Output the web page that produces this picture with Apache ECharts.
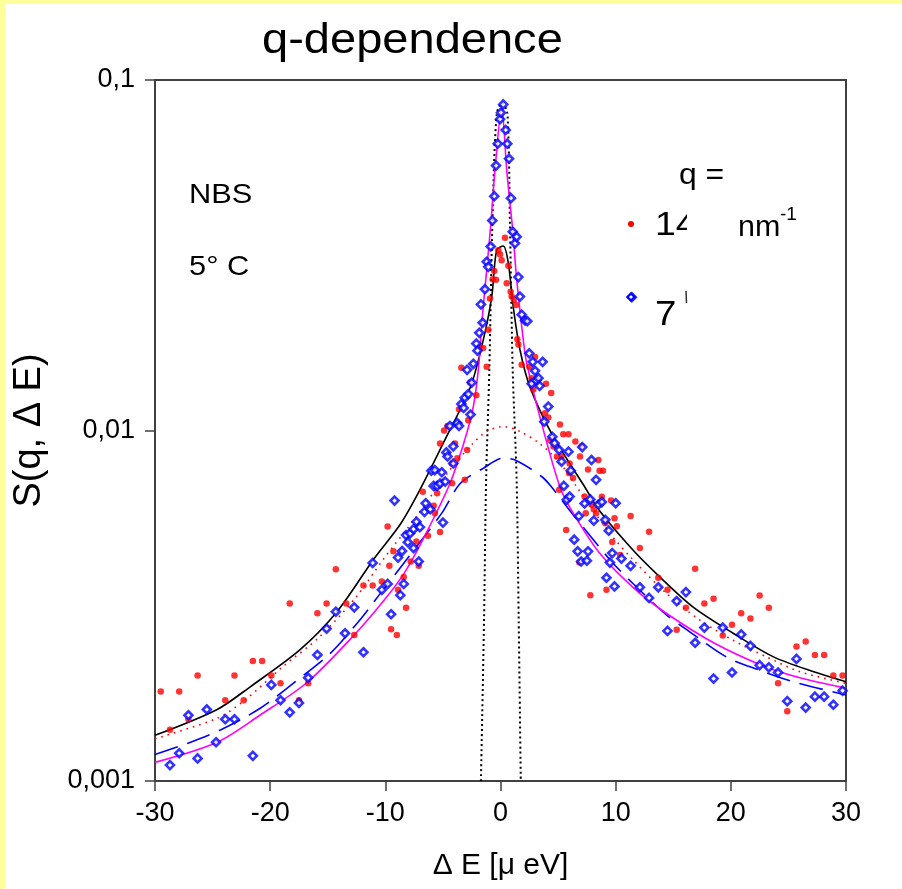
<!DOCTYPE html>
<html>
<head>
<meta charset="utf-8">
<script src="https://cdn.jsdelivr.net/npm/echarts/dist/echarts.min.js"></script>
<style>
  html, body { margin: 0; padding: 0; background: #ffffff; }
  #chart { width: 902px; height: 889px; }
</style>
</head>
<body>
<div id="chart"></div>
<script>
// ---------------- data ----------------
const titleText = 'q-dependence';
const xAxisTitle = 'Δ E [μ eV]';
const yAxisTitle = 'S(q, Δ E)';
const xTickValues = [-30, -20, -10, 0, 10, 20, 30];
const xTickLabels = ['-30', '-20', '-10', '0', '10', '20', '30'];
const yTickValues = [0.001, 0.01, 0.1];
const yTickLabels = ['0,001', '0,01', '0,1'];

// q = 14 nm^-1 (red points)
const red14X = [
  -29.5, -27.9, -26.3, -23.1, -21.5, -20.7, -28.7, -27.1, -23.9, -22.3, -19.9, -19.1, -18.3, -17.5, -16.7,
  -15.9, -15.1, -14.3, -13.4, -12.7, -11.9, -11.1, -10.3, -9.8, -9.65, -9.5, -9.3, -9.0, -8.9, -8.4, -8.2,
  -7.8, -7.3, -7.1, -6.75, -6.3, -5.8, -5.7, -5.5, -5.25, -4.2,
  -5.25, -4.9, -4.6, -4.2, -3.95, -3.75, -3.6, -3.1, -2.9, -2.8, -2.65, -2.1,
  2.7, 2.85, 3.86, 3.95, 4.15, 4.3, 4.4, 4.6, 4.9, 5.16, 5.3, 5.45, 5.9, 5.95, 6.0, 6.3, 6.5, 6.9, 7.05,
  7.6, 8.5, 8.6, 8.9,
  -3.4, -1.84, -1.5, -1.2, -1.06, -0.91, -0.68, -0.54, -0.39, -0.19, -0.04, 0.1, 0.39, 0.54, 0.68, 0.88,
  0.97, 1.17, 1.35, 1.46, 1.55, 1.84, 2.5, 3.0,
  5.1, 5.7, 6.85, 7.3, 7.4, 7.8, 7.9, 8.1, 8.3, 8.8, 9.1, 9.2, 9.6, 9.7, 9.9, 10.1, 10.4, 11.3, 12.1, 12.9,
  13.7, 14.5, 15.3, 16.1, 16.9, 17.7, 18.5, 19.3, 20.1, 20.9, 21.7, 22.5, 23.3, 24.1, 24.9, 25.7, 26.5,
  27.3, 28.1, 28.9, 29.7
];
const red14Y = [
  0.00180, 0.00180, 0.00200, 0.00200, 0.00220, 0.00220, 0.00140, 0.00150, 0.00170, 0.00170, 0.00200, 0.00190, 0.00321, 0.00170, 0.00190,
  0.00301, 0.00321, 0.00402, 0.00321, 0.00261, 0.00361, 0.00361, 0.00371, 0.00532, 0.00411, 0.00271, 0.00452, 0.00261, 0.00351, 0.00382, 0.00312,
  0.00423, 0.00482, 0.00411, 0.00669, 0.00501, 0.00610, 0.00581, 0.00662, 0.00513, 0.00707,
  0.00918, 0.0100, 0.0103, 0.00805, 0.00918, 0.00834, 0.0115, 0.00723, 0.00880, 0.0107, 0.0137, 0.0126,
  0.0141, 0.0131, 0.0112, 0.0136, 0.0109, 0.0094, 0.0128, 0.0090, 0.00843, 0.0104, 0.00843, 0.00975, 0.00975, 0.00756, 0.00805, 0.00732, 0.00931, 0.00843, 0.00901,
  0.00774, 0.00824, 0.00768, 0.00768,
  0.0151, 0.0174, 0.0172, 0.0152, 0.0194, 0.0238, 0.0270, 0.0285, 0.0269, 0.0327, 0.0318, 0.0306, 0.0355, 0.0263, 0.0295, 0.0249,
  0.0241, 0.0236, 0.0228, 0.0182, 0.0176, 0.0154, 0.0152, 0.0162,
  0.00678, 0.00520, 0.00420, 0.00648, 0.00581, 0.00339, 0.00615, 0.00596, 0.00581, 0.00647, 0.00544, 0.00351, 0.00631, 0.00481, 0.00562, 0.00533, 0.00441, 0.00570, 0.00462, 0.00514,
  0.00380, 0.00351, 0.00270, 0.00312, 0.00403, 0.00321, 0.00331, 0.00260, 0.00279, 0.00301, 0.00291, 0.00338, 0.00312, 0.00190, 0.00158, 0.00242, 0.00250,
  0.00229, 0.00229, 0.00200, 0.00200
];

// q = 7 nm^-1 (blue points)
const blue7X = [
  -28.7, -27.9, -27.1, -26.3, -25.5, -24.7, -23.9, -23.1, -21.5, -19.9, -19.1, -18.3, -17.5, -16.7, -15.9,
  -15.1, -14.3, -13.5, -12.7, -11.9, -11.1, -10.3, -9.8, -9.5, -9.2, -8.9, -8.7, -8.55, -8.4, -8.2, -8.05,
  -7.85, -7.55, -7.55, -7.3, -7.1, -7.0, -6.6, -6.5, -6.1, -5.8, -5.5, -5.25, -5.0, -4.8,
  -6.0, -5.7, -5.1, -4.7, -4.6, -4.4, -4.1, -4.1, -3.75, -3.6, -3.4, -3.2, -3.1, -2.9, -2.8, -2.6, -2.5,
  2.7, 3.1, 3.3, 3.4, 3.8, 4.15, 4.5, 4.7, 5.1, 5.3, 5.9, 6.1, 7.1, 7.9, 11.4,
  -2.36, -2.1, -2.0, -1.84, -1.7, -1.55, -1.35, -1.2, -1.06, -0.85, -0.71, -0.54, -0.39, -0.24, -0.04, 0.04,
  0.24, 0.45, 0.59, 0.74, 0.91, 1.06, 1.26, 1.4, 1.55, 1.69, 1.84, 2.13, 2.33, 2.5, 2.8, 3.0, 3.66,
  5.5, 5.75, 6.0, 6.4, 6.7, 6.8, 7.0, 7.3, 7.5, 7.6, 7.8, 8.1, 8.3, 8.5, 8.8, 9.1, 9.2, 9.4, 9.5, 9.7, 9.9,
  10.0, 10.5, 11.3, 12.1, 12.9, 13.7, 14.5, 15.3, 16.1, 16.9, 17.7, 18.5, 19.3, 20.1, 20.9, 21.7, 22.5,
  23.3, 24.1, 24.9, 25.7, 26.5, 27.3, 28.1, 28.9, 29.7
];
const blue7Y = [
  0.00111, 0.00120, 0.00154, 0.00116, 0.00160, 0.00129, 0.00150, 0.00150, 0.00118, 0.00188, 0.00170, 0.00157, 0.00167, 0.00197, 0.00229,
  0.00272, 0.00304, 0.00264, 0.00313, 0.00233, 0.00419, 0.00351, 0.00365, 0.00299, 0.00631, 0.00434, 0.00339, 0.00453, 0.00365, 0.00503, 0.00480,
  0.00509, 0.00523, 0.00462, 0.00549, 0.00423, 0.00530, 0.00586, 0.00620, 0.00596, 0.00695, 0.00695, 0.00706, 0.00546, 0.00715,
  0.00768, 0.00771, 0.00760, 0.00866, 0.00843, 0.0103, 0.00901, 0.00805, 0.0105, 0.0103, 0.0119, 0.0116, 0.0124, 0.0149, 0.0127, 0.0111, 0.0137,
  0.0136, 0.0139, 0.0141, 0.0134, 0.0106, 0.0117, 0.00959, 0.00920, 0.00880, 0.00815, 0.00870, 0.00768, 0.00897, 0.00824, 0.0240,
  0.0155, 0.0177, 0.0169, 0.0190, 0.0229, 0.0203, 0.0253, 0.0303, 0.0293, 0.0335, 0.0397, 0.0466, 0.0570, 0.0658, 0.0773, 0.0807,
  0.0852, 0.0720, 0.0658, 0.0596, 0.0460, 0.0369, 0.0342, 0.0357, 0.0274, 0.0241, 0.0214, 0.0206, 0.0205, 0.0166, 0.0157, 0.0148, 0.0157,
  0.00695, 0.00635, 0.00648, 0.00488, 0.00452, 0.00570, 0.00423, 0.00619, 0.00425, 0.00452, 0.00636, 0.00553, 0.00723, 0.00615, 0.00625, 0.00556, 0.00380, 0.00518, 0.00420, 0.00447, 0.00359,
  0.00620, 0.00431, 0.00411, 0.00357, 0.00333, 0.00357, 0.00268, 0.00326, 0.00346, 0.00248, 0.00274, 0.00196, 0.00274, 0.00204, 0.00262, 0.00243, 0.00214,
  0.00211, 0.00204, 0.00169, 0.00223, 0.00162, 0.00174, 0.00174, 0.00165, 0.00181
];

// fitted curves
const fit14TotalX = [-30, -24.6, -21.7, -17.4, -14.2, -11.0, -8.7, -7.0, -4.7, -2.6, -1.5, -0.76, -0.33, 0.24, 0.68, 1.11, 1.69, 2.56, 4.58, 7.2, 8.6, 11.5, 13.8, 16.7, 20.2, 23.7, 27.2, 30];
const fit14TotalY = [0.00135, 0.00160, 0.00186, 0.00237, 0.00304, 0.00430, 0.00540, 0.00677, 0.00959, 0.01333, 0.0181, 0.0241, 0.0327, 0.0336, 0.0300, 0.0225, 0.0170, 0.0133, 0.0096, 0.0070, 0.0059, 0.00456, 0.00383, 0.00314, 0.00264, 0.00226, 0.00205, 0.00192];

const fit14BroadX = [-30, -24.6, -22.3, -18.9, -15.7, -12.5, -10.2, -7.3, -4.4, -2.4, -1.2, 0.24, 1.7, 3.4, 5.2, 6.6, 9.5, 11.5, 14.4, 17.3, 20.2, 23.1, 26, 30];
const fit14BroadY = [0.00132, 0.00151, 0.00169, 0.00212, 0.00258, 0.00336, 0.00428, 0.00568, 0.00771, 0.00918, 0.00993, 0.01026, 0.00993, 0.00918, 0.00805, 0.00692, 0.00509, 0.00428, 0.00343, 0.00288, 0.00252, 0.00226, 0.00205, 0.00190];

const fit7TotalX = [-30, -24.6, -20.9, -16.8, -12.7, -10.2, -8.4, -7.0, -4.5, -3.2, -2.36, -1.9, -1.6, -1.2, -0.85, -0.48, 0.1, 0.54, 0.82, 1.06, 1.41, 1.98, 2.27, 3.43, 5.16, 6.3, 8.6, 11.5, 14.4, 18.5, 23.1, 26, 30];
const fit7TotalY = [0.00113, 0.00129, 0.00154, 0.00191, 0.00261, 0.00325, 0.00390, 0.00470, 0.00692, 0.00918, 0.0117, 0.0152, 0.0207, 0.0287, 0.0385, 0.0553, 0.0832, 0.0553, 0.0446, 0.0373, 0.0269, 0.0181, 0.0156, 0.0109, 0.00690, 0.00582, 0.00447, 0.00357, 0.00301, 0.00248, 0.00211, 0.00197, 0.00184];

const fit7BroadX = [-30, -27.2, -24.1, -20.9, -18, -14.8, -12.1, -10.2, -8.4, -5.1, -3.5, -1.5, 0.24, 1.4, 3.6, 4.4, 6.2, 9.5, 11.5, 14.4, 16.2, 19.6, 22.5, 25.4, 30];
const fit7BroadY = [0.00119, 0.00128, 0.00141, 0.00161, 0.00190, 0.00231, 0.00291, 0.00351, 0.00418, 0.00581, 0.00706, 0.0078, 0.00834, 0.0082, 0.00738, 0.00692, 0.00581, 0.00428, 0.00366, 0.00298, 0.0027, 0.00226, 0.00207, 0.00192, 0.00176];

// resolution function (black dotted)
const resolutionX = [-1.7, -1.43, -1.25, -0.97, -0.7, -0.33, 0.15, 0.6, 0.82, 1.06, 1.4, 1.58, 1.76];
const resolutionY = [0.001, 0.00288, 0.00723, 0.0149, 0.0394, 0.0800, 0.0860, 0.0800, 0.0386, 0.0149, 0.00723, 0.00288, 0.001];

// legend / annotation texts
const sampleLabel = 'NBS';
const temperatureLabel = '5° C';
const legendHeader = 'q =';
const legendRed = '14';
const legendBlue = '7';
const legendUnit = 'nm';
const legendUnitExp = '-1';

// ---------------- chart ----------------
const FONT = '"Liberation Sans", Arial, Helvetica, sans-serif';
const zip = (xs, ys) => xs.map((x, i) => [x, ys[i]]);
const chart = echarts.init(document.getElementById('chart'), null, { renderer: 'canvas' });

function txt(text, x, y, size, z, sx) {
  return {
    type: 'text', x: x, y: y, z: z || 5, scaleX: sx || 1.1,
    style: {
      text: text, fill: '#000', fontSize: size, fontFamily: FONT,
      font: size + 'px ' + FONT,
      align: 'left', verticalAlign: 'middle', textAlign: 'left', textVerticalAlign: 'middle'
    }
  };
}

function fitLine(name, xs, ys, style) {
  return {
    name: name, type: 'line', data: zip(xs, ys), symbol: 'none', showSymbol: false,
    smooth: 0.3, z: 2, silent: true, lineStyle: style
  };
}

const option = {
  backgroundColor: '#ffffff',
  animation: false,
  grid: {
    left: 155, top: 80, width: 691, height: 701,
    show: true, borderColor: '#404040', borderWidth: 2, backgroundColor: 'transparent'
  },
  xAxis: {
    type: 'value', min: -30, max: 30, interval: 10,
    axisLine: { show: true, onZero: false, lineStyle: { color: '#404040', width: 2 } },
    axisTick: { show: true, inside: false, length: 10, lineStyle: { color: '#404040', width: 1.5 } },
    axisLabel: {
      margin: 19, fontSize: 27, color: '#000', fontFamily: FONT,
      formatter: function (v) { const i = xTickValues.indexOf(v); return i >= 0 ? xTickLabels[i] : ''; }
    },
    splitLine: { show: false },
    name: xAxisTitle, nameLocation: 'middle', nameGap: 70,
    nameTextStyle: { fontSize: 30, color: '#000', fontFamily: FONT }
  },
  yAxis: {
    type: 'log', logBase: 10, min: 0.001, max: 0.1,
    axisLine: { show: true, onZero: false, lineStyle: { color: '#404040', width: 2 } },
    axisTick: { show: true, inside: false, length: 10, lineStyle: { color: '#404040', width: 1.5 } },
    minorTick: { show: false },
    axisLabel: {
      margin: 20, fontSize: 27, color: '#000', fontFamily: FONT,
      formatter: function (v) {
        const e = Math.round(Math.log10(v));
        const i = yTickValues.findIndex(t => Math.round(Math.log10(t)) === e);
        return i >= 0 ? yTickLabels[i] : '';
      }
    },
    splitLine: { show: false },
    name: yAxisTitle, nameLocation: 'middle', nameGap: 106, nameRotate: 90,
    nameTextStyle: { fontSize: 38, color: '#000', fontFamily: FONT }
  },
  series: [
    fitLine('resolution', resolutionX, resolutionY, { color: '#000', width: 2, type: [2, 3] }),
    fitLine('fit 14 broad', fit14BroadX, fit14BroadY, { color: '#ff0000', width: 1.6, type: [1.6, 5] }),
    fitLine('fit 7 broad', fit7BroadX, fit7BroadY, { color: '#0000ff', width: 1.6, type: [24, 10] }),
    fitLine('fit 14 total', fit14TotalX, fit14TotalY, { color: '#000000', width: 1.6 }),
    fitLine('fit 7 total', fit7TotalX, fit7TotalY, { color: '#ff00ff', width: 1.6 }),
    {
      name: 'q = 14 nm-1', type: 'scatter', data: zip(red14X, red14Y),
      symbol: 'circle', symbolSize: 6.5, z: 3,
      itemStyle: { color: '#ff0000' }
    },
    {
      name: 'q = 7 nm-1', type: 'scatter', data: zip(blue7X, blue7Y),
      symbol: 'diamond', symbolSize: 8, z: 4,
      itemStyle: { color: '#ffffff', borderColor: '#0000ff', borderWidth: 2.6 }
    }
  ],
  graphic: [
    { type: 'rect', shape: { x: 0, y: 0, width: 5, height: 889 }, style: { fill: '#ffff99' }, z: 1 },
    { type: 'rect', shape: { x: 0, y: 0, width: 902, height: 4 }, style: { fill: '#ffff99' }, z: 1 },
    txt(titleText, 262, 41, 42, 5, 1.12),
    txt(sampleLabel, 189, 195, 28),
    txt(temperatureLabel, 189, 267, 28),
    txt(legendHeader, 679, 176, 29),
    { type: 'circle', shape: { cx: 631, cy: 224, r: 3 }, style: { fill: '#ff0000' }, z: 5 },
    { type: 'polygon', shape: { points: [[631, 293.5], [634.5, 297], [631, 300.5], [627.5, 297]] },
      style: { fill: '#ffffff', stroke: '#0000ff', lineWidth: 2.2 }, z: 5 },
    txt(legendRed, 655, 226, 34),
    { type: 'rect', shape: { x: 687, y: 200, width: 48, height: 45 }, style: { fill: '#ffffff' }, z: 10 },
    txt(legendUnit, 738, 228, 29, 11, 1.05),
    txt(legendUnitExp, 780, 215, 18, 11, 1.05),
    txt(legendBlue, 655, 315, 35),
    { type: 'line', shape: { x1: 686, y1: 291, x2: 686.5, y2: 303 }, style: { stroke: '#333', lineWidth: 1.5 }, z: 5 }
  ]
};
chart.setOption(option);
</script>
</body>
</html>
